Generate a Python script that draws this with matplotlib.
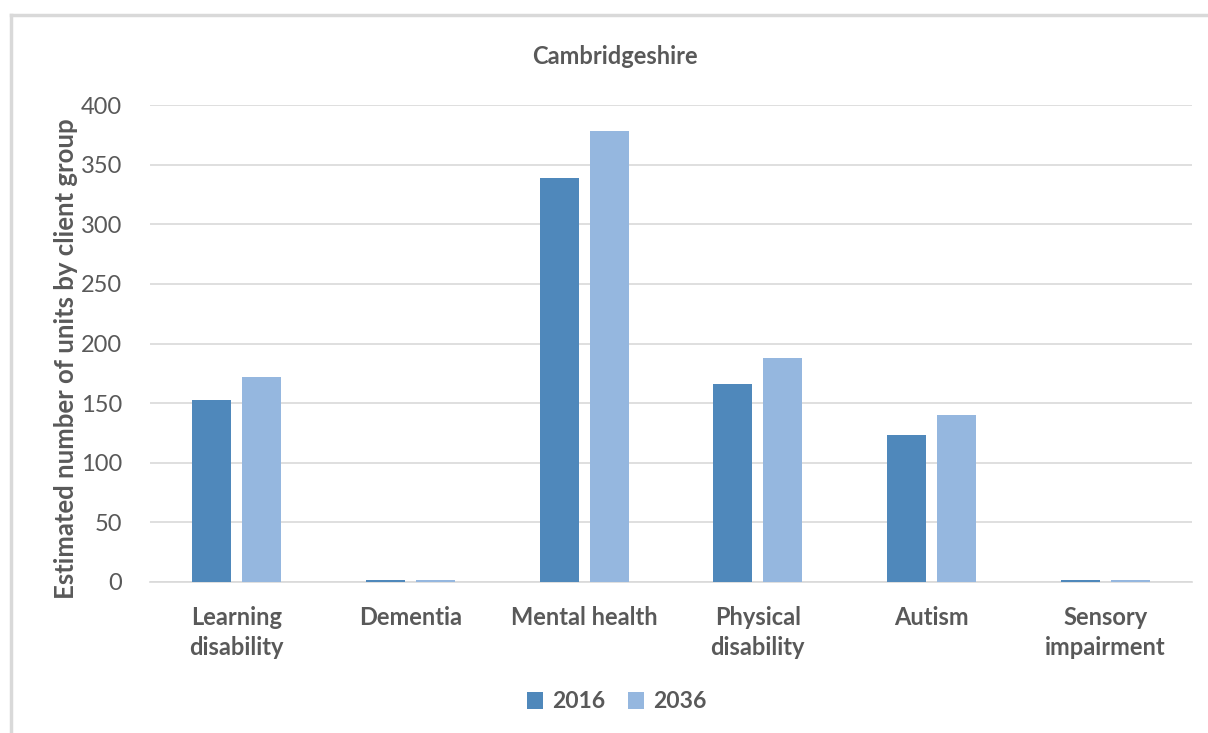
import numpy as np
import matplotlib
matplotlib.use("Agg")
import matplotlib.pyplot as plt
from matplotlib.lines import Line2D

# Data
categories = ["Learning\ndisability", "Dementia", "Mental health",
              "Physical\ndisability", "Autism", "Sensory\nimpairment"]
values_2016 = [153, 2, 339, 166, 123, 2]
values_2036 = [172, 2, 378, 188, 140, 2]
years = ["2016", "2036"]

col_2016 = "#4f88bb"
col_2036 = "#95b7df"
text_col = "#595959"

plt.rcParams['font.family'] = ['Lato', 'DejaVu Sans']

fig = plt.figure(figsize=(12.08, 7.33), dpi=100)
ax = fig.add_axes([150 / 1208, 1 - 582 / 733, (1192 - 150) / 1208, (582 - 105) / 733])

x = np.arange(len(categories))
w = 0.225
off = 0.144
ax.bar(x - off, values_2016, width=w, color=col_2016, label=years[0], zorder=3)
ax.bar(x + off, values_2036, width=w, color=col_2036, label=years[1], zorder=3)

ax.set_xlim(-0.5, len(categories) - 0.5)
ax.set_ylim(0, 400)
ax.set_yticks(range(0, 401, 50))
ax.yaxis.grid(True, color="#d9d9d9", linewidth=1.2, zorder=0)
ax.set_axisbelow(True)
for s in ["top", "right", "left"]:
    ax.spines[s].set_visible(False)
ax.spines["bottom"].set_color("#d9d9d9")
ax.spines["bottom"].set_linewidth(1.2)
ax.tick_params(axis="both", length=0, colors=text_col, labelsize=17)
ax.tick_params(axis="y", pad=20)
ax.tick_params(axis="x", pad=17)
ax.set_xticks(x)
ax.set_xticklabels(categories, fontweight="bold", linespacing=1.4)

ax.set_ylabel("Estimated number of units by client group", fontsize=18.5,
              fontweight="bold", color=text_col)
ax.yaxis.set_label_coords(-0.069, 0.4675)
fig.text(615 / 1208, 1 - 56 / 733, "Cambridgeshire", ha="center", va="center",
         fontsize=17, fontweight="bold", color=text_col)

leg = fig.legend(loc="center", bbox_to_anchor=(617 / 1208, 1 - 702 / 733), ncol=2,
                 frameon=False, handlelength=0.7, handleheight=0.7, handletextpad=0.4,
                 columnspacing=1.0, prop={"weight": "bold", "size": 16.5})
for t in leg.get_texts():
    t.set_color(text_col)

# outer chart border (top and left edges visible)
fig.add_artist(Line2D([11 / 1208, 11 / 1208], [0, 1 - 15 / 733], color="#d9d9d9",
                      linewidth=2.5, transform=fig.transFigure))
fig.add_artist(Line2D([11 / 1208, 1], [1 - 15 / 733, 1 - 15 / 733], color="#d9d9d9",
                      linewidth=2.5, transform=fig.transFigure))

fig.savefig("out.png", dpi=100)
